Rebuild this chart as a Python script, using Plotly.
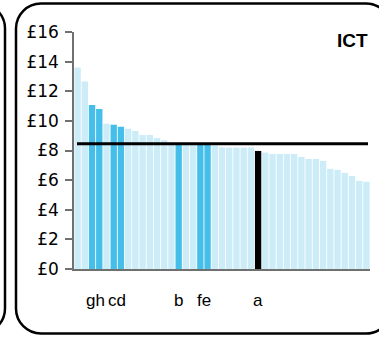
import plotly.graph_objects as go

# Data
values = [13.6, 12.65, 11.08, 10.8, 9.8, 9.73, 9.6, 9.46, 9.32, 9.05,
          9.05, 8.85, 8.7, 8.5, 8.45, 8.45, 8.42, 8.4, 8.4, 8.33,
          8.22, 8.2, 8.2, 8.2, 8.2, 7.97, 7.86, 7.77, 7.77, 7.77,
          7.77, 7.57, 7.43, 7.43, 7.3, 6.76, 6.69, 6.49, 6.28, 5.95, 5.89]
labels = ["", "", "g", "h", "", "c", "d", "", "", "",
          "", "", "", "", "b", "", "", "f", "e", "",
          "", "", "", "", "", "a", "", "", "", "",
          "", "", "", "", "", "", "", "", "", "", ""]
highlight = ["a"]
average = 8.45
title = "ICT"
y_ticks = [0, 2, 4, 6, 8, 10, 12, 14, 16]
y_ticktext = ["£" + str(v) for v in y_ticks]

LIGHT = "#CCECF8"
DARK = "#45BFEA"
colors = []
for lab in labels:
    if lab in highlight:
        colors.append("#000000")
    elif lab:
        colors.append(DARK)
    else:
        colors.append(LIGHT)

x = list(range(len(values)))

W, H = 379, 338
L, R, T, B = 74, 9, 32, 69
pw, ph = W - L - R, H - T - B

def px(xpix):
    return (xpix - L) / pw

def py(ypix):
    return 1 - (ypix - T) / ph

def rrect(x0, y0, x1, y1, r):
    k = 0.5523 * r
    d = f"M {px(x0 + r)},{py(y0)} L {px(x1 - r)},{py(y0)} "
    d += f"C {px(x1 - r + k)},{py(y0)} {px(x1)},{py(y0 + r - k)} {px(x1)},{py(y0 + r)} "
    d += f"L {px(x1)},{py(y1 - r)} "
    d += f"C {px(x1)},{py(y1 - r + k)} {px(x1 - r + k)},{py(y1)} {px(x1 - r)},{py(y1)} "
    d += f"L {px(x0 + r)},{py(y1)} "
    d += f"C {px(x0 + r - k)},{py(y1)} {px(x0)},{py(y1 - r + k)} {px(x0)},{py(y1 - r)} "
    d += f"L {px(x0)},{py(y0 + r)} "
    d += f"C {px(x0)},{py(y0 + r - k)} {px(x0 + r - k)},{py(y0)} {px(x0 + r)},{py(y0)} Z"
    return d

fig = go.Figure()
fig.add_trace(go.Bar(x=x, y=values, marker=dict(color=colors, line=dict(width=0)),
                     hoverinfo="skip"))

shapes = [
    dict(type="path", xref="paper", yref="paper", path=rrect(16, 3.5, 391, 333.5, 25),
         line=dict(color="black", width=2.5), fillcolor="rgba(0,0,0,0)", layer="below"),
    dict(type="path", xref="paper", yref="paper", path=rrect(-120, 3.5, 5, 333.5, 25),
         line=dict(color="black", width=2.5), fillcolor="rgba(0,0,0,0)", layer="below"),
    dict(type="line", xref="paper", yref="y", x0=px(77), x1=px(368), y0=average, y1=average,
         line=dict(color="black", width=3)),
]

annotations = [dict(text="<b>" + title + "</b>", xref="paper", yref="paper",
                    x=px(370), y=py(41), xanchor="right", yanchor="middle",
                    showarrow=False,
                    font=dict(size=19, color="black", family="Liberation Sans, Arial, sans-serif"))]

# group adjacent labelled bars into one text so letters sit side by side
groups = []
for xi, lab in zip(x, labels):
    if lab and groups and groups[-1][1][-1] == xi - 1:
        groups[-1][0].append(lab)
        groups[-1][1].append(xi)
    elif lab:
        groups.append(([lab], [xi]))
for labs, xs in groups:
    annotations.append(dict(text="".join(labs), xref="x", yref="paper",
                            x=sum(xs) / len(xs), y=py(300),
                            xanchor="center", yanchor="middle", showarrow=False,
                            font=dict(size=17, color="black")))

fig.update_layout(
    width=W, height=H,
    margin=dict(l=L, r=R, t=T, b=B, autoexpand=False),
    paper_bgcolor="white", plot_bgcolor="white",
    showlegend=False, bargap=0.12,
    font=dict(family="Liberation Sans, Arial, sans-serif", color="black"),
    shapes=shapes,
    annotations=annotations,
    xaxis=dict(range=[-0.5, len(values) - 0.5], showticklabels=False,
               showgrid=False, zeroline=False, automargin=False,
               showline=True, linecolor="#707070", linewidth=1.5, ticks="",
               fixedrange=True),
    yaxis=dict(range=[0, 16], tickmode="array", tickvals=y_ticks, ticktext=y_ticktext,
               showgrid=False, zeroline=False, showline=True, linecolor="#707070",
               linewidth=1.5, ticks="outside", ticklen=7, tickcolor="#707070",
               tickwidth=1.5, ticklabelstandoff=3,
               tickfont=dict(size=17, family="DejaVu Sans, sans-serif"),
               automargin=False, fixedrange=True),
)

fig.write_html("out.html", config={"displayModeBar": False},
               post_script="document.body.style.margin='0';")
